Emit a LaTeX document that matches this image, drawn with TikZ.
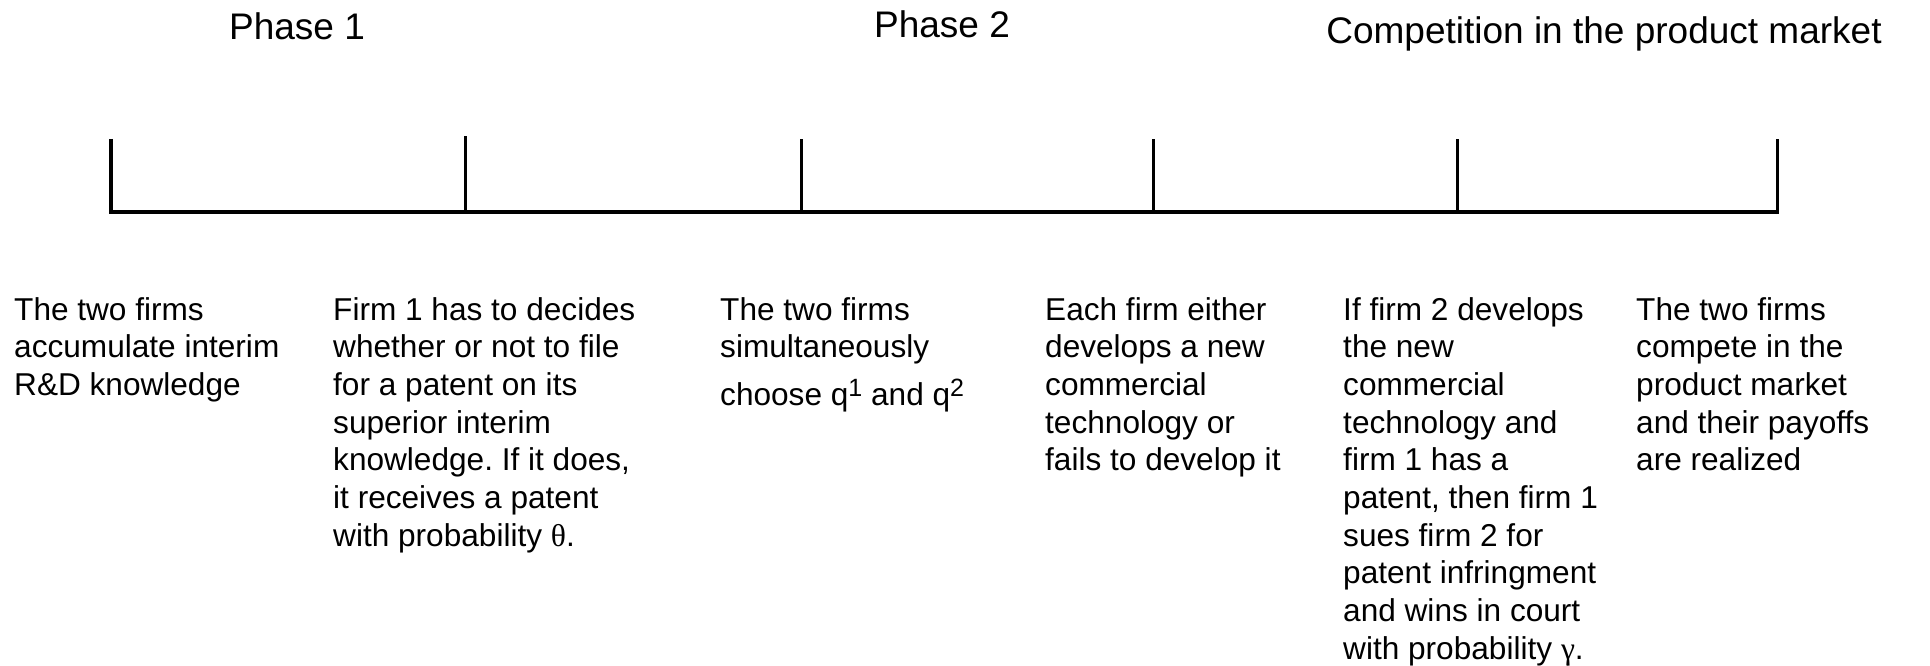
\documentclass[tikz,border=0pt]{standalone}
\usepackage{fontspec}
\setmainfont{Liberation Sans}
\newfontfamily\grk{Liberation Serif}
\frenchspacing
\begin{document}
\begin{tikzpicture}[x=1pt,y=-1pt,
  heading/.style={font=\fontsize{37}{44}\selectfont, inner sep=0pt, anchor=base},
  body/.style={inner sep=0pt, anchor=base west},
  axis/.style={line width=4pt, line join=miter},
  tickline/.style={line width=3pt}]
\newcommand{\bodytext}[1]{\parbox[t]{400pt}{\fontsize{31.6}{37.7}\selectfont #1}}
\newcommand{\supnum}[1]{\raisebox{8.8pt}{\fontsize{25}{25}\selectfont #1}}
\useasboundingbox (0,0) rectangle (1930,666);
% timeline
\coordinate (a1) at (111.3,212); \coordinate (b1) at (111.3,139);
\coordinate (a2) at (465,212); \coordinate (b2) at (465,135.7);
\coordinate (a3) at (801,212); \coordinate (b3) at (801,139);
\coordinate (a4) at (1153,212); \coordinate (b4) at (1153,139);
\coordinate (a5) at (1457,212); \coordinate (b5) at (1457,139);
\coordinate (a6) at (1777,212); \coordinate (b6) at (1777,139);
\draw[axis, shorten >=-1.7pt] (b1) -- (a1) -- (a6);
\draw[tickline] (a2) -- (b2);
\draw[tickline] (a3) -- (b3);
\draw[tickline] (a4) -- (b4);
\draw[tickline] (a5) -- (b5);
\draw[tickline, shorten <=-2pt] (a6) -- (b6);
% headings
\node[heading] (h1) at (297,40) {Phase 1};
\node[heading] (h2) at (942,38) {Phase 2};
\node[heading] (h3) at (1604,44) {Competition in the product market};
% events
\node[body] (e1) at (14,320) {\bodytext{The two firms\\accumulate interim\\R\&D knowledge}};
\node[body] (e2) at (333,320) {\bodytext{Firm 1 has to decides\\whether or not to file\\for a patent on its\\superior interim\\knowledge. If it does,\\it receives a patent\\with probability {\grk θ}.}};
\node[body] (e3) at (720,320) {\bodytext{The two firms\\simultaneously\\[10pt]choose q\supnum{1} and q\supnum{2}}};
\node[body] (e4) at (1045,320) {\bodytext{Each firm either\\develops a new\\commercial\\technology or\\fails to develop it}};
\node[body] (e5) at (1343,320) {\bodytext{If firm 2 develops\\the new\\commercial\\technology and\\firm 1 has a\\patent, then firm 1\\sues firm 2 for\\patent infringment\\and wins in court\\with probability {\grk γ}.}};
\node[body] (e6) at (1636,320) {\bodytext{The two firms\\compete in the\\product market\\and their payoffs\\are realized}};
\end{tikzpicture}
\end{document}
